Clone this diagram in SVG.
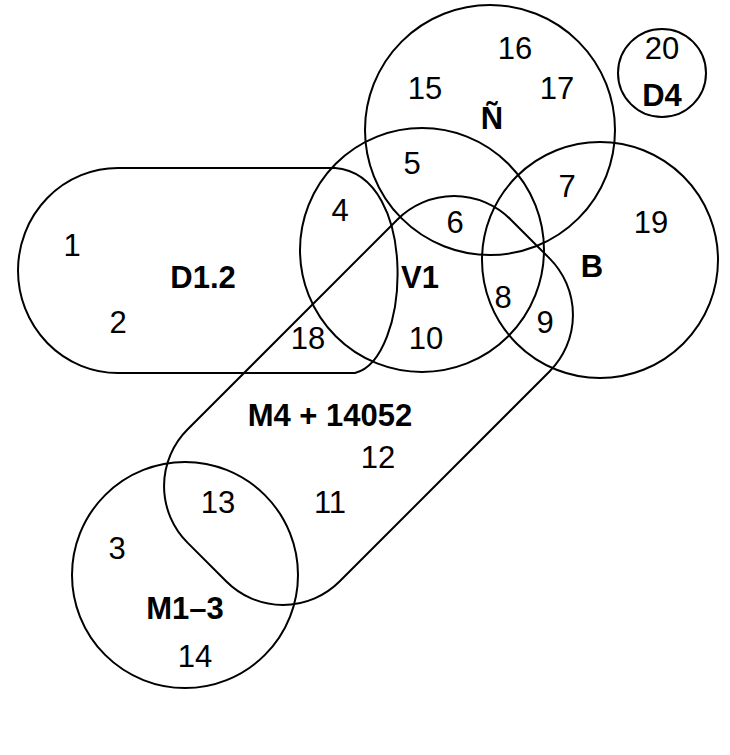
<svg xmlns="http://www.w3.org/2000/svg" width="730" height="755" viewBox="0 0 730 755">
<style>
.s{fill:none;stroke:#000;stroke-width:2}
text{font-family:"Liberation Sans",Arial,sans-serif;font-size:31px;text-anchor:middle;fill:#000}
.b{font-weight:bold}
</style>
<rect width="730" height="755" fill="#fff"/>
<g id="D12"><path class="s" d="M118,168 H335 C420,175 410,360 355,373 H118 A100,102.5 0 0 1 118,168 Z"/></g>
<g id="N"><circle class="s" cx="490" cy="130" r="125"/></g>
<g id="D4"><circle class="s" cx="662" cy="73" r="44"/></g>
<g id="V1"><circle class="s" cx="422" cy="250" r="122"/></g>
<g id="B"><circle class="s" cx="600" cy="260" r="118"/></g>
<g id="M13"><circle class="s" cx="185" cy="575" r="113"/></g>
<g id="M4"><rect class="s" x="140" y="293" width="457" height="215" rx="80" transform="rotate(-45 368.5 400.5)"/></g>
<g id="labels">
<text x="72" y="256">1</text>
<text x="118" y="333">2</text>
<text class="b" x="203" y="288">D1.2</text>
<text x="340" y="221">4</text>
<text x="412" y="174">5</text>
<text x="425" y="99">15</text>
<text x="515" y="59">16</text>
<text x="557" y="99">17</text>
<text class="b" x="492" y="129">Ñ</text>
<text x="662" y="59">20</text>
<text class="b" x="662" y="106">D4</text>
<text x="567" y="197">7</text>
<text x="651" y="233">19</text>
<text x="455" y="233">6</text>
<text class="b" x="420" y="288">V1</text>
<text class="b" x="592" y="277">B</text>
<text x="503" y="308">8</text>
<text x="545" y="333">9</text>
<text x="308" y="349">18</text>
<text x="426" y="349">10</text>
<text class="b" x="330" y="426">M4 + 14052</text>
<text x="378" y="468">12</text>
<text x="330" y="513">11</text>
<text x="218" y="513">13</text>
<text x="117" y="559">3</text>
<text class="b" x="185" y="619">M1–3</text>
<text x="195" y="667">14</text>
</g>
</svg>
